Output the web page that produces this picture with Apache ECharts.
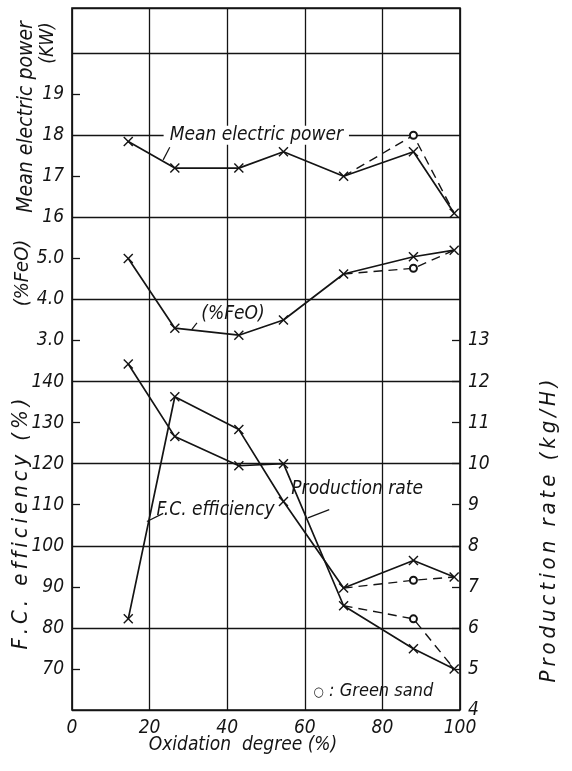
<!DOCTYPE html>
<html>
<head>
<meta charset="utf-8">
<script src="https://cdn.jsdelivr.net/npm/echarts@6/dist/echarts.min.js"></script>
<style>
html, body { margin: 0; padding: 0; background: #fff; }
#chart { width: 572px; height: 771px; }
</style>
</head>
<body>
<div id="chart"></div>
<script>
// oxidation degree (%) of the seven runs, and of the green sand runs
var oxidation = [14.5, 26.5, 43, 54.5, 70, 88, 98.5];
var greenX = [70, 88, 98.5];

// mean electric power (KW)
var powerKW = [17.85, 17.2, 17.2, 17.6, 17.0, 17.6, 16.1];
var powerGreen = [17.0, 18.0, 16.1];

// %FeO
var feo = [5.0, 3.3, 3.13, 3.5, 4.62, 5.04, 5.2];
var feoGreen = [4.62, 4.76, 5.2];

// F.C. efficiency (%)
var fcEff = [82.2, 136.3, 128.3, 110.8, 89.7, 96.4, 92.4];
var fcGreen = [89.7, 91.6, 92.4];

// production rate (kg/H)
var prodRate = [12.43, 10.66, 9.95, 10.0, 6.54, 5.49, 5.0];
var prodGreen = [6.54, 6.22, 5.0];

// tick labels
var xLabels = [0, 20, 40, 60, 80, 100];
var powerLabels = [16, 17, 18, 19];
var feoLabels = [3, 4, 5];
var fcLabels = [70, 80, 90, 100, 110, 120, 130, 140];
var prodLabels = [4, 5, 6, 7, 8, 9, 10, 11, 12, 13];

var INK = '#141414';
var FONT = "'Liberation Sans Narrow','DejaVu Sans Condensed','Liberation Sans',sans-serif";
var CROSS = 'path://M1,0L5,4L9,0L10,1L6,5L10,9L9,10L5,6L1,10L0,9L4,5L0,1Z';

var chart = echarts.init(document.getElementById('chart'));

function pairs(xs, ys) {
	return xs.map(function (x, i) { return [x, ys[i]]; });
}

function labelAxis(min, max, labels, ticks, fmt, pos) {
	return {
		type: 'value', position: pos || 'left', min: min, max: max,
		axisLine: { show: false },
		splitLine: { show: false },
		axisTick: { show: true, inside: true, length: 8, customValues: ticks, lineStyle: { color: INK, width: 1.3 } },
		axisLabel: {
			customValues: labels, formatter: fmt, margin: 8,
			color: INK, fontStyle: 'italic', fontSize: 19, fontFamily: FONT
		}
	};
}

function solid(name, ys, axis) {
	return {
		name: name, type: 'line', yAxisIndex: axis, data: pairs(oxidation, ys),
		symbol: CROSS, symbolSize: 10, z: 4,
		itemStyle: { color: INK },
		lineStyle: { color: INK, width: 1.7 }
	};
}

function dashed(name, ys, axis) {
	return {
		name: name, type: 'line', yAxisIndex: axis, data: pairs(greenX, ys),
		symbol: function (v, p) { return p.dataIndex === 1 ? 'emptyCircle' : 'none'; },
		symbolSize: 7, z: 3,
		itemStyle: { color: INK, borderColor: INK, borderWidth: 1.4 },
		lineStyle: { color: INK, width: 1.4, type: [9, 6] }
	};
}

chart.setOption({
	animation: false,
	backgroundColor: '#fff',
	grid: { left: 72, right: 112, top: 8, bottom: 61, show: true, borderColor: INK, borderWidth: 1.7 },
	xAxis: {
		type: 'value', min: 0, max: 100, interval: 20,
		axisLine: { show: false }, axisTick: { show: false },
		splitLine: { lineStyle: { color: INK, width: 1.3 } },
		axisLabel: { customValues: xLabels, margin: 9, color: INK, fontStyle: 'italic', fontSize: 19, fontFamily: FONT }
	},
	yAxis: [
		// shared grid lines, F.C. efficiency scale
		{
			type: 'value', position: 'left', min: 60, max: 231, interval: 20,
			axisLine: { show: false }, axisTick: { show: false }, axisLabel: { show: false },
			splitLine: { lineStyle: { color: INK, width: 1.3 } }
		},
		labelAxis(4, 21.1, powerLabels, [17, 19]),
		labelAxis(-6, 11.1, feoLabels, [3, 5], function (v) { return v.toFixed(1); }),
		labelAxis(60, 231, fcLabels, [70, 90, 110, 130]),
		labelAxis(4, 21.1, prodLabels, [5, 6, 7, 8, 9, 10, 11, 12, 13], null, 'right')
	],
	series: [
		solid('Mean electric power', powerKW, 1),
		dashed('Mean electric power, green sand', powerGreen, 1),
		solid('%FeO', feo, 2),
		dashed('%FeO, green sand', feoGreen, 2),
		solid('F.C. efficiency', fcEff, 0),
		dashed('F.C. efficiency, green sand', fcGreen, 0),
		solid('Production rate', prodRate, 4),
		dashed('Production rate, green sand', prodGreen, 4)
	]
});

function px(axis, pt) {
	return chart.convertToPixel({ xAxisIndex: 0, yAxisIndex: axis }, pt);
}

var italic = { fontStyle: 'italic', fontFamily: FONT, fill: INK };

function note(text, axis, at, size, bg) {
	var p = px(axis, at);
	return {
		type: 'text', x: p[0], y: p[1], z: 10,
		style: Object.assign({
			text: text, fontSize: size, textAlign: 'center', textVerticalAlign: 'middle',
			backgroundColor: bg ? '#fff' : null, padding: bg ? [0, 6] : 0,
			rich: { c: { fontSize: 13, fontFamily: FONT, padding: [2, 0, 0, 0] } }
		}, italic)
	};
}

function leader(axis, a, b) {
	var p = px(axis, a), q = px(axis, b);
	return {
		type: 'line', z: 10,
		shape: { x1: p[0], y1: p[1], x2: q[0], y2: q[1] },
		style: { stroke: INK, lineWidth: 1.2 }
	};
}

// hand lettering on the axis titles is widely spaced
function spaced(s) {
	return s.split('').join('\u2009');
}

function title(text, x, y, size, rot) {
	return {
		type: 'text', x: x, y: y, rotation: rot ? Math.PI / 2 : 0, z: 10,
		style: Object.assign({ text: text, fontSize: size, textAlign: 'center', textVerticalAlign: 'middle' }, italic)
	};
}

chart.setOption({
	graphic: [
		note('Mean electric power', 1, [47.5, 18.0], 19, true),
		leader(1, [25.2, 17.71], [23.5, 17.4]),
		note('(%FeO)', 2, [41.5, 3.65], 19),
		leader(2, [32.2, 3.43], [30.9, 3.27]),
		note('Production rate', 0, [73.5, 113.8], 19),
		leader(0, [66.3, 108.8], [60.8, 106.8]),
		note('F.C. efficiency', 0, [37, 108.6], 19),
		leader(0, [23.5, 107.9], [19.3, 105.9]),
		note('{c|\u25CB} : Green sand', 0, [77.7, 64.5], 18),
		title('Mean electric power', 27, 117, 21, true),
		title('(KW)', 48, 43, 19, true),
		title('(%FeO)', 23, 273, 20, true),
		title(spaced('F.C. efficiency (%)'), 21, 524, 22, true),
		title(spaced('Production rate (kg/H)'), 549, 531, 22, true),
		title('Oxidation  degree (%)', 243, 745, 19, false)
	]
});
</script>
</body>
</html>
